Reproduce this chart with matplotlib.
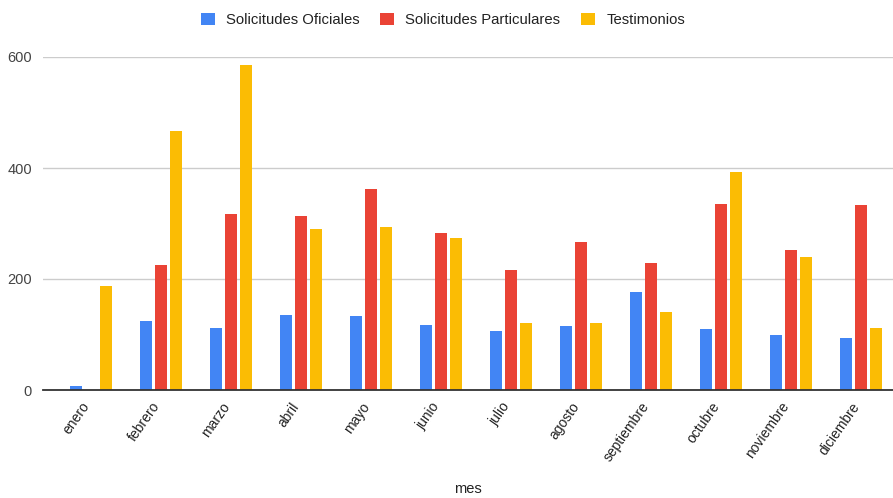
import matplotlib
matplotlib.use("Agg")
import matplotlib.pyplot as plt
import matplotlib.transforms as mtrans
import numpy as np

months = ["enero", "febrero", "marzo", "abril", "mayo", "junio", "julio",
          "agosto", "septiembre", "octubre", "noviembre", "diciembre"]
oficiales = [7, 124, 112, 136, 133, 117, 107, 115, 176, 110, 100, 93]
particulares = [0, 226, 317, 314, 362, 283, 217, 266, 229, 336, 252, 333]
testimonios = [188, 467, 586, 290, 293, 274, 121, 121, 140, 392, 240, 112]
series_names = ["Solicitudes Oficiales", "Solicitudes Particulares", "Testimonios"]
colors = ["#4285F4", "#EA4335", "#FBBC04"]
yticks = [0, 200, 400, 600]

plt.rcParams['font.family'] = ['Liberation Sans', 'DejaVu Sans']

fig = plt.figure(figsize=(8.93, 4.98), dpi=100)
ax = fig.add_axes([43/893, 1-390/498, 850/893, (390-57)/498])

x = np.arange(len(months))
w = 0.17
off = 0.214
handles = []
for i, (vals, c, name) in enumerate(zip([oficiales, particulares, testimonios], colors, series_names)):
    h = ax.bar(x + (i-1)*off, vals, width=w, color=c, label=name, zorder=3)
    handles.append(h)

ax.set_xlim(-0.686, 11.46)
ax.set_ylim(0, 600)
ax.set_yticks(yticks)
ax.set_yticklabels([str(v) for v in yticks], fontsize=10.5, color="#444444")
ax.yaxis.grid(True, color="#cccccc", linewidth=1, zorder=0)
ax.tick_params(axis='y', length=0, pad=8)
ax.tick_params(axis='x', length=0, pad=7)
ax.set_xticks(x)
ax.set_xticklabels(months, rotation=55, ha='right', rotation_mode='anchor',
                   fontsize=10, color="#222222")
shift = mtrans.ScaledTranslation(-10/100, 0, fig.dpi_scale_trans)
for lab in ax.get_xticklabels():
    lab.set_transform(lab.get_transform() + shift)
for s in ["top", "right", "left"]:
    ax.spines[s].set_visible(False)
ax.spines["bottom"].set_color("#333333")
ax.spines["bottom"].set_linewidth(1.3)
ax.spines["bottom"].set_zorder(4)
ax.set_xlabel("mes", fontsize=10.5, color="#222222")
ax.xaxis.set_label_coords(0.5, -0.275)

fig.legend(handles=handles, labels=series_names, loc="center", bbox_to_anchor=(443/893, 1-20/498),
           ncol=3, frameon=False, fontsize=10.7, handlelength=0.94, handleheight=0.94,
           handletextpad=0.74, columnspacing=1.4, labelcolor="#222222")

fig.savefig("out.png", dpi=100)
